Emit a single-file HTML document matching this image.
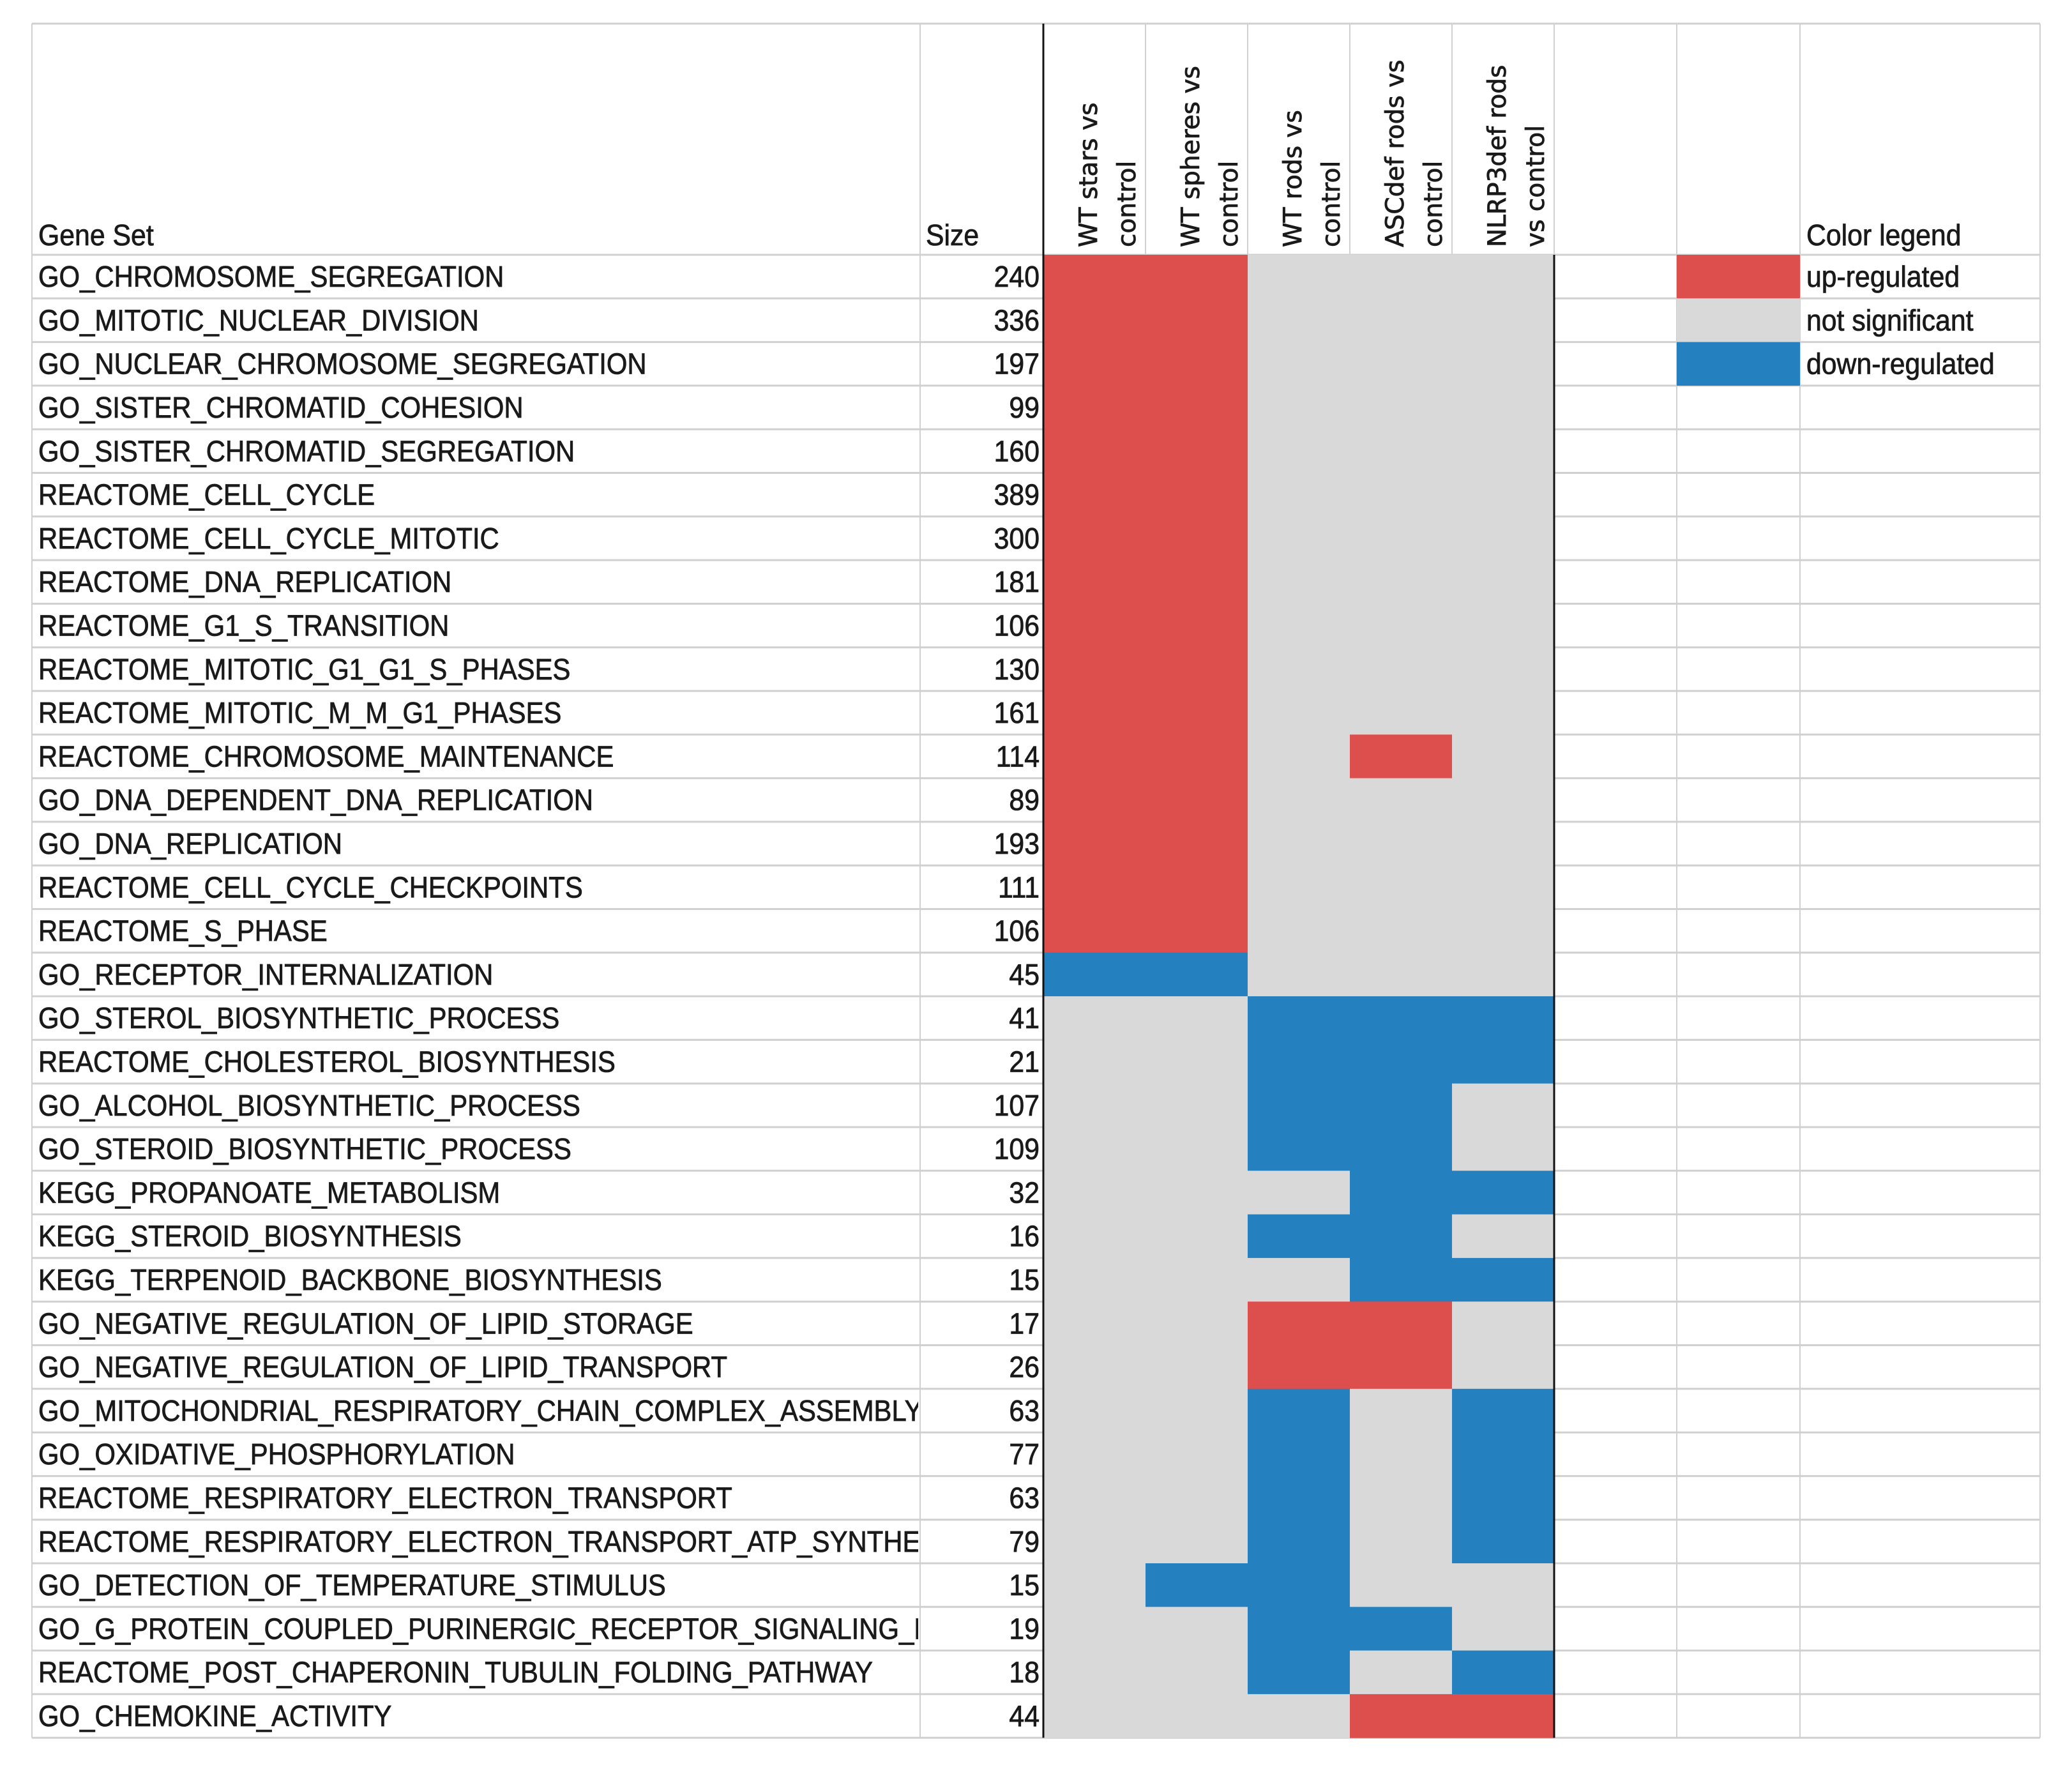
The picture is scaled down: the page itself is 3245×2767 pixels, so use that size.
<!DOCTYPE html>
<html><head><meta charset="utf-8"><style>
html,body{margin:0;padding:0;background:#fff}
svg{display:block}
</style></head><body>
<svg id="chart" xmlns="http://www.w3.org/2000/svg" width="3245" height="2767" viewBox="0 0 3245 2767">
<defs><clipPath id="clipName"><rect x="50" y="0" width="1388" height="2767"/></clipPath></defs>
<rect x="0" y="0" width="3245" height="2767" fill="#fff"/>
<g id="grid"></g>
<g id="cells"></g>
<g id="borders"></g>
<g id="texts" stroke="#1a1a1a" stroke-width="0.8"></g>
</svg>
<script>
const geneSets = ["GO_CHROMOSOME_SEGREGATION","GO_MITOTIC_NUCLEAR_DIVISION","GO_NUCLEAR_CHROMOSOME_SEGREGATION","GO_SISTER_CHROMATID_COHESION","GO_SISTER_CHROMATID_SEGREGATION","REACTOME_CELL_CYCLE","REACTOME_CELL_CYCLE_MITOTIC","REACTOME_DNA_REPLICATION","REACTOME_G1_S_TRANSITION","REACTOME_MITOTIC_G1_G1_S_PHASES","REACTOME_MITOTIC_M_M_G1_PHASES","REACTOME_CHROMOSOME_MAINTENANCE","GO_DNA_DEPENDENT_DNA_REPLICATION","GO_DNA_REPLICATION","REACTOME_CELL_CYCLE_CHECKPOINTS","REACTOME_S_PHASE","GO_RECEPTOR_INTERNALIZATION","GO_STEROL_BIOSYNTHETIC_PROCESS","REACTOME_CHOLESTEROL_BIOSYNTHESIS","GO_ALCOHOL_BIOSYNTHETIC_PROCESS","GO_STEROID_BIOSYNTHETIC_PROCESS","KEGG_PROPANOATE_METABOLISM","KEGG_STEROID_BIOSYNTHESIS","KEGG_TERPENOID_BACKBONE_BIOSYNTHESIS","GO_NEGATIVE_REGULATION_OF_LIPID_STORAGE","GO_NEGATIVE_REGULATION_OF_LIPID_TRANSPORT","GO_MITOCHONDRIAL_RESPIRATORY_CHAIN_COMPLEX_ASSEMBLY","GO_OXIDATIVE_PHOSPHORYLATION","REACTOME_RESPIRATORY_ELECTRON_TRANSPORT","REACTOME_RESPIRATORY_ELECTRON_TRANSPORT_ATP_SYNTHESIS","GO_DETECTION_OF_TEMPERATURE_STIMULUS","GO_G_PROTEIN_COUPLED_PURINERGIC_RECEPTOR_SIGNALING_PATHWAY","REACTOME_POST_CHAPERONIN_TUBULIN_FOLDING_PATHWAY","GO_CHEMOKINE_ACTIVITY"];
const sizes = [240,336,197,99,160,389,300,181,106,130,161,114,89,193,111,106,45,41,21,107,109,32,16,15,17,26,63,77,63,79,15,19,18,44];
const comparisons = [["WT stars vs","control"],["WT spheres vs","control"],["WT rods vs","control"],["ASCdef rods vs","control"],["NLRP3def rods","vs control"]];
// 1 = up, 0 = not significant, -1 = down
const status = [
[1,1,0,0,0],[1,1,0,0,0],[1,1,0,0,0],[1,1,0,0,0],[1,1,0,0,0],[1,1,0,0,0],[1,1,0,0,0],[1,1,0,0,0],
[1,1,0,0,0],[1,1,0,0,0],[1,1,0,0,0],[1,1,0,1,0],[1,1,0,0,0],[1,1,0,0,0],[1,1,0,0,0],[1,1,0,0,0],
[-1,-1,0,0,0],[0,0,-1,-1,-1],[0,0,-1,-1,-1],[0,0,-1,-1,0],[0,0,-1,-1,0],[0,0,0,-1,-1],[0,0,-1,-1,0],[0,0,0,-1,-1],
[0,0,1,1,0],[0,0,1,1,0],[0,0,-1,0,-1],[0,0,-1,0,-1],[0,0,-1,0,-1],[0,0,-1,0,-1],[0,-1,-1,0,0],[0,0,-1,-1,0],
[0,0,-1,0,-1],[0,0,0,1,1]];
const legendLabels = ["up-regulated","not significant","down-regulated"];
const legendValues = [1,0,-1];

const NS="http://www.w3.org/2000/svg";
const colorOf = v => v===1?"#dc4f4d":(v===-1?"#2580c0":"#d9d9d9");
const L=50,T=37,R=3195,HB=399,RH=68.3;
const X_SIZE=1441,X_HEAT=1634,CW=160;
const X_LEG=2626,X_LEGTXT=2819;
const rowY = i => HB + i*RH;
const colX = j => X_HEAT + j*CW;
const B = HB + geneSets.length*RH;
function mk(tag, attrs, parent){const e=document.createElementNS(NS,tag);for(const k in attrs)e.setAttribute(k,attrs[k]);parent.appendChild(e);return e;}
const cells=document.getElementById('cells'), grid=document.getElementById('grid'), texts=document.getElementById('texts'), borders=document.getElementById('borders');
const FONT='"Liberation Sans", "DejaVu Sans", sans-serif';
const FS=46, SX=0.93;
const sc = x => `translate(${x},0) scale(${SX},1) translate(${-x},0)`;

for(let i=0;i<=geneSets.length;i++){
  const ln=mk('line',{x1:L,x2:R,y1:rowY(i),y2:rowY(i),stroke:'#d0d0d0','stroke-width':3},grid);
  
  
}
const topLn=mk('line',{x1:L,x2:R,y1:T,y2:T,stroke:'#d0d0d0','stroke-width':3},grid);


[L,X_SIZE,X_LEG,X_LEGTXT,R].forEach(x=>{
  const v=mk('line',{x1:x,x2:x,y1:T,y2:B,stroke:'#d0d0d0','stroke-width':2},grid);
  
  
});
for(let j=1;j<=comparisons.length;j++){
  const v=mk('line',{x1:colX(j),x2:colX(j),y1:T,y2:HB,stroke:'#d0d0d0','stroke-width':2},grid);
  
  
}

status.forEach((row,i)=>row.forEach((v,j)=>{
  const r=mk('rect',{x:colX(j),y:rowY(i),width:CW+0.5,height:RH+0.5,fill:colorOf(v)},cells);
  
  
}));
const bl1=mk('line',{x1:X_HEAT,x2:X_HEAT,y1:T,y2:B,stroke:'#111','stroke-width':3},borders);


const bl2=mk('line',{x1:colX(comparisons.length),x2:colX(comparisons.length),y1:HB,y2:B,stroke:'#111','stroke-width':3},borders);



legendValues.forEach((v,i)=>{
  const r=mk('rect',{x:X_LEG,y:rowY(i),width:X_LEGTXT-X_LEG,height:RH,fill:colorOf(v)},cells);
  
  
  const t=mk('text',{x:X_LEGTXT+10,y:rowY(i)+RH/2+16,'font-family':FONT,'font-size':FS,fill:'#1a1a1a',transform:sc(X_LEGTXT+10)},texts);
  t.textContent=legendLabels[i];
  
  
});
const lt=mk('text',{x:X_LEGTXT+10,y:HB-15,'font-family':FONT,'font-size':FS,fill:'#1a1a1a',transform:sc(X_LEGTXT+10)},texts);
lt.textContent='Color legend';



const gh=mk('text',{x:60,y:HB-15,'font-family':FONT,'font-size':FS,fill:'#1a1a1a',transform:sc(60)},texts);
gh.textContent='Gene Set';


const sh=mk('text',{x:X_SIZE+9,y:HB-15,'font-family':FONT,'font-size':FS,fill:'#1a1a1a',transform:sc(X_SIZE+9)},texts);
sh.textContent='Size';


comparisons.forEach((lines,j)=>{
  lines.forEach((s,k)=>{
    const x=colX(j)+84+k*60, y=HB-12;
    const t=mk('text',{x:x,y:y,'font-family':'"DejaVu Sans", sans-serif','font-size':39,fill:'#1a1a1a',transform:`rotate(-90 ${x} ${y})`},texts);
    t.textContent=s;
    
    
  });
});

const nameG=mk('g',{'clip-path':'url(#clipName)'},texts);
geneSets.forEach((g,i)=>{
  const y=rowY(i)+RH/2+16;
  const t=mk('text',{x:60,y:y,'font-family':FONT,'font-size':FS,fill:'#1a1a1a',transform:`translate(60,0) scale(0.91,1) translate(-60,0)`},nameG);
  t.textContent=g;
  
  
  const s=mk('text',{x:X_HEAT-6,y:y,'font-family':FONT,'font-size':FS,fill:'#1a1a1a','text-anchor':'end',transform:sc(X_HEAT-6)},texts);
  s.textContent=sizes[i];
  
  
});
</script>
</body></html>
